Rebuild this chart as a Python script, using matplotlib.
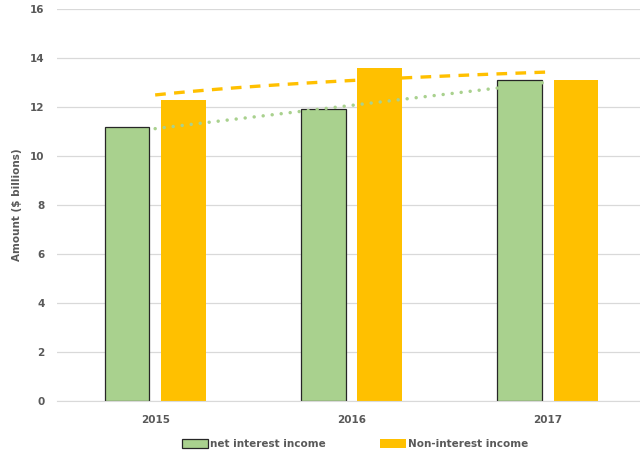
import numpy as np
import matplotlib.pyplot as plt
from matplotlib.patches import Patch

years = ['2015', '2016', '2017']
net_interest = [11.2, 11.9, 13.1]
non_interest = [12.3, 13.6, 13.1]

green = '#A9D18E'
orange = '#FFC000'
txt = '#595959'

plt.rcParams['font.family'] = ['DejaVu Sans']

fig = plt.figure(figsize=(6.4, 4.65), dpi=100)
ax = fig.add_axes([57/640, 1-401/465, 589/640, 392/465])

x = np.arange(len(years))
w = 0.227
ax.bar(x - 0.143, net_interest, w, color=green, edgecolor='#262626', linewidth=0.9, zorder=2)
ax.bar(x + 0.143, non_interest, w, color=orange, edgecolor='none', zorder=2)

# trendlines: linear for net interest, logarithmic for non-interest
xs = np.linspace(0, 2, 50)
p = np.polyfit(x + 1, net_interest, 1)
ax.plot(xs, np.polyval(p, xs + 1), color=green, lw=2.5, ls=(0, (0.01, 2.6)),
        dash_capstyle='round', zorder=3)
q = np.polyfit(np.log(x + 1), non_interest, 1)
ax.plot(xs, np.polyval(q, np.log(xs + 1)), color=orange, lw=2.4, ls=(0, (3.2, 2.5)),
        zorder=3)

ax.set_xlim(-0.5, 2.5)
ax.set_ylim(0, 16)
ax.set_yticks(range(0, 17, 2))
ax.set_xticks(x)
ax.set_xticklabels(years)
ax.grid(axis='y', color='#D9D9D9', lw=0.9, zorder=0)
for s in ['top', 'right', 'left']:
    ax.spines[s].set_visible(False)
ax.spines['bottom'].set_color('#D9D9D9')
ax.tick_params(length=0, colors=txt, labelsize=7.5)
ax.tick_params(axis='x', pad=10)
ax.tick_params(axis='y', pad=9)
for lab in ax.get_xticklabels() + ax.get_yticklabels():
    lab.set_fontweight('bold')
ax.set_ylabel('Amount ($ billions)', color=txt, fontsize=7.5, fontweight='bold', labelpad=6)

handles = [Patch(facecolor=green, edgecolor='#262626', lw=0.9, label='net interest income'),
           Patch(facecolor=orange, edgecolor='none', label='Non-interest income')]
leg = fig.legend(handles=handles, loc='center', bbox_to_anchor=(355/640, 1-444/465), ncol=2,
                 frameon=False, fontsize=7.5, handlelength=2.5, handleheight=0.9,
                 columnspacing=5.2, handletextpad=0.2)
for t in leg.get_texts():
    t.set_color(txt)
    t.set_fontweight('bold')

fig.savefig('out.png', dpi=100)
